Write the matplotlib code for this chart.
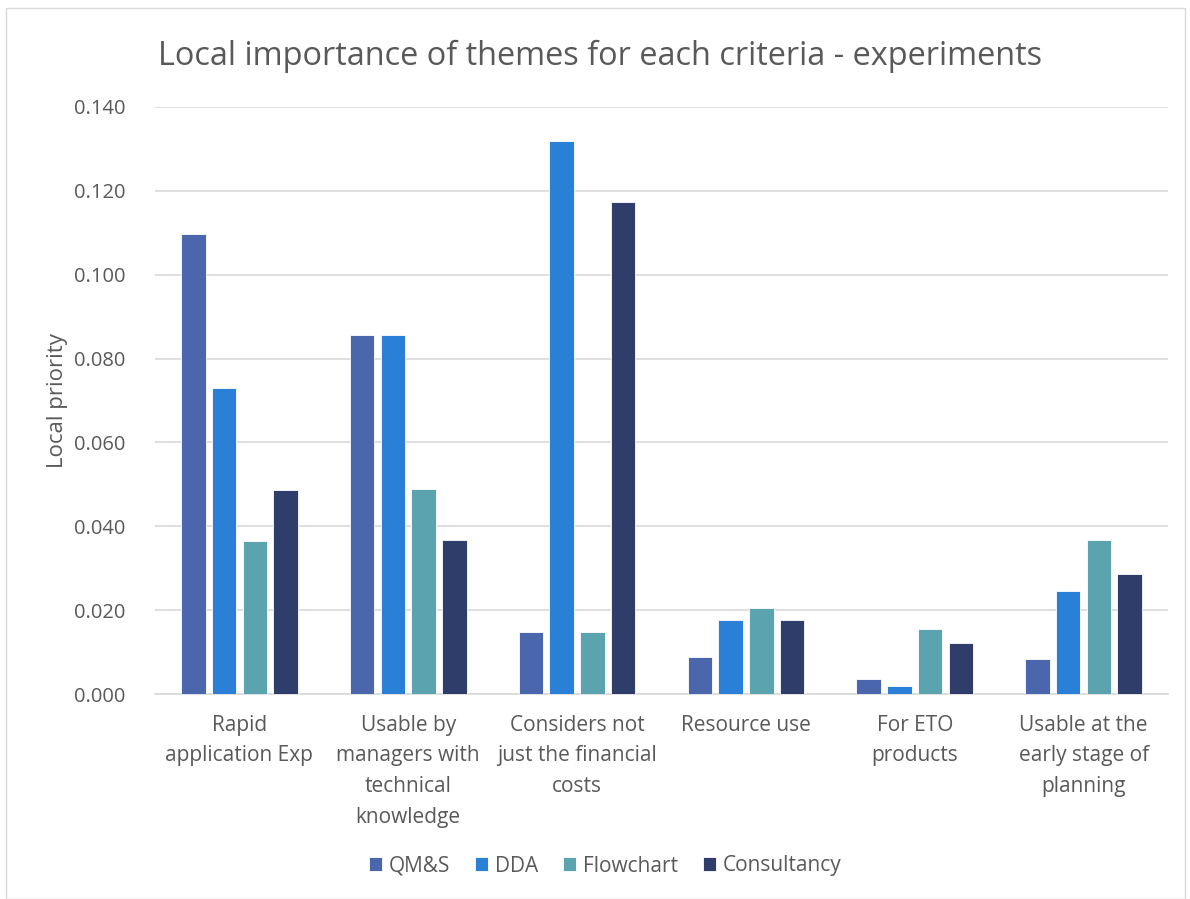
import matplotlib
matplotlib.use("Agg")
import matplotlib.pyplot as plt
import numpy as np
from matplotlib.patches import Rectangle

categories = ["Rapid\napplication Exp",
              "Usable by\nmanagers with\ntechnical\nknowledge",
              "Considers not\njust the financial\ncosts",
              "Resource use",
              "For ETO\nproducts",
              "Usable at the\nearly stage of\nplanning"]
series_names = ["QM&S", "DDA", "Flowchart", "Consultancy"]
qms = [0.1096, 0.0857, 0.0148, 0.0088, 0.0036, 0.0083]
dda = [0.0730, 0.0857, 0.1320, 0.0176, 0.0018, 0.0245]
flowchart = [0.0365, 0.0489, 0.0148, 0.0205, 0.0155, 0.0368]
consultancy = [0.0487, 0.0367, 0.1173, 0.0176, 0.0121, 0.0286]
yticks = [0.0, 0.02, 0.04, 0.06, 0.08, 0.10, 0.12, 0.14]
colors = ["#4A66AC", "#2A7FD6", "#5BA3AE", "#2E3D69"]

plt.rcParams['font.family'] = ['Open Sans', 'DejaVu Sans']
txt = "#595959"

fig = plt.figure(figsize=(11.9, 8.99), dpi=100)
W, H = 1190, 899
ax = fig.add_axes([155 / W, 1 - 694 / H, (1168 - 155) / W, (694 - 107) / H])

x = np.arange(len(categories))
width = 0.145
step = 0.182
data = [qms, dda, flowchart, consultancy]
for i, (vals, c, name) in enumerate(zip(data, colors, series_names)):
    ax.bar(x + (i - 1.5) * step, vals, width, color=c, label=name,
           edgecolor="white", linewidth=0.6, zorder=3)

ax.set_xlim(-0.5, len(categories) - 0.5)
ax.set_ylim(0, 0.14)
ax.set_yticks(yticks)
ax.set_yticklabels([f"{v:.3f}" for v in yticks], color=txt, fontsize=14.5)
ax.set_xticks(x)
ax.set_xticklabels(categories, color=txt, fontsize=15, linespacing=1.6, va="top")
ax.tick_params(axis="both", length=0)
ax.tick_params(axis="y", pad=21)
ax.tick_params(axis="x", pad=15)
ax.grid(axis="y", color="#D9D9D9", linewidth=1.2, zorder=0)
for s in ["top", "right", "left"]:
    ax.spines[s].set_visible(False)
ax.spines["bottom"].set_color("#D9D9D9")
ax.spines["bottom"].set_linewidth(1.2)

ax.set_ylabel("Local priority", color=txt, fontsize=16)
ax.yaxis.set_label_coords((68 - 155) / 1013, 0.5)

fig.text(158 / W, 1 - 56 / H, "Local importance of themes for each criteria - experiments",
         color=txt, fontsize=23.4, ha="left", va="center")

leg = fig.legend(loc="center", bbox_to_anchor=(605 / W, 1 - 866 / H), ncol=4,
                 frameon=False, fontsize=15, handlelength=0.65, handleheight=0.65,
                 handletextpad=0.3, columnspacing=1.2)
for t in leg.get_texts():
    t.set_color(txt)

fig.patches.append(Rectangle((6 / W, 0), (1185 - 6) / W, 1 - 8 / H,
                             transform=fig.transFigure, fill=False,
                             edgecolor="#D9D9D9", linewidth=1))

fig.savefig("out.png", dpi=100)
